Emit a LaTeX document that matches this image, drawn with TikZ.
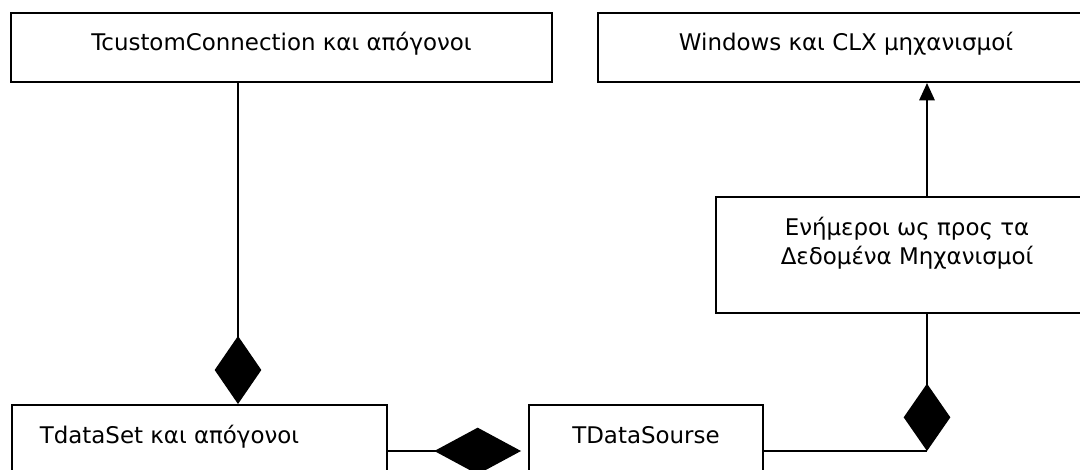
\documentclass[tikz,border=0pt]{standalone}
\usepackage{fontspec}
\setmainfont{DejaVu Sans}
\usetikzlibrary{arrows.meta}

\begin{document}
\begin{tikzpicture}[x=0.75pt,y=-0.75pt,line width=1.5pt,classbox/.style={draw,anchor=north west,inner sep=0pt,align=center,font=\fontsize{17.2}{21.75}\selectfont},whole/.style={-{Diamond[length=#1,width=35pt]}},whole/.default=51pt,uses/.style={-{Triangle[length=13pt,width=11.5pt]}}]
  \useasboundingbox (0,0) rectangle (1080,470);
  \clip (0,0) rectangle (1080,470);
  \node[classbox,minimum width=405.75pt,minimum height=51.75pt,text height=28pt,text depth=23.75pt] (conn) at (10,12) {TcustomConnection και απόγονοι};
  \node[classbox,minimum width=372pt,minimum height=51.75pt,text height=28pt,text depth=23.75pt] (win) at (597,12) {Windows και CLX μηχανισμοί};
  \node[classbox,minimum width=286.5pt,minimum height=87pt,text height=50.5pt,text depth=36.5pt] (aware) at (715,196) {Ενήμεροι ως προς τα\\Δεδομένα Μηχανισμοί};
  \node[classbox,minimum width=281.25pt,minimum height=69pt,text height=28.5pt,text depth=40.5pt] (dataset) at (11,404) {TdataSet και απόγονοι\hspace*{45pt}};
  \node[classbox,minimum width=175.5pt,minimum height=69pt,text height=28.5pt,text depth=40.5pt] (source) at (528,404) {TDataSourse};
  \coordinate (linkA) at (238,0);
  \coordinate (linkB) at (927,0);
  \draw[whole] (conn.south -| linkA) -- (dataset.north -| linkA);
  \draw[whole=65pt,shorten >=5.25pt] (dataset.east) -- (source.west);
  \draw (source.east) -- (source.east -| linkB);
  \draw[whole=50.5pt] (aware.south -| linkB) -- (source.east -| linkB);
  \draw[uses] (aware.north -| linkB) -- (win.south -| linkB);
\end{tikzpicture}
\end{document}
